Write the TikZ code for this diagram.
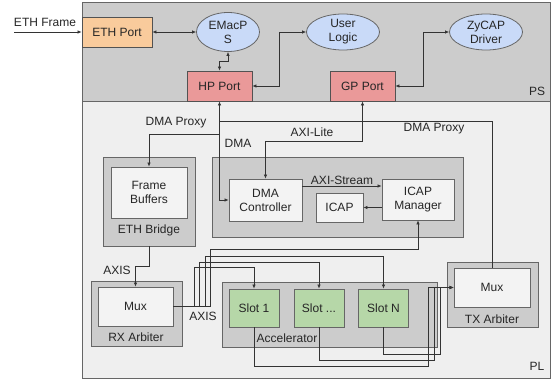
\documentclass[tikz,border=0pt]{standalone}
\usepackage{fontspec}
\setmainfont{Liberation Sans}
\usetikzlibrary{arrows.meta}
\usetikzlibrary{shapes.geometric}
\definecolor{psgray}{HTML}{CCCCCC}
\definecolor{plgray}{HTML}{EFEFEF}
\definecolor{boxwhite}{HTML}{F3F3F3}
\definecolor{portorange}{HTML}{F9CB9C}
\definecolor{portred}{HTML}{EA9999}
\definecolor{swblue}{HTML}{C9DAF8}
\definecolor{slotgreen}{HTML}{B6D7A8}
\definecolor{edgegray}{HTML}{666666}
\definecolor{wiregray}{HTML}{333333}

\begin{document}
\begin{tikzpicture}[x=0.75pt, y=-0.75pt, font=\fontsize{9}{10.5}\selectfont, text=black!85,
  zone/.style={draw=edgegray, line width=0.7pt},
  cluster/.style={draw=edgegray, fill=psgray, line width=0.7pt},
  unit/.style={draw=edgegray, fill=boxwhite, line width=0.6pt, align=center, inner sep=1pt},
  port/.style={draw=edgegray!80!black, fill=portred, line width=0.6pt, minimum width=48.75pt, minimum height=22.5pt},
  soft/.style={ellipse, draw=edgegray, fill=swblue, line width=0.6pt, align=center, inner sep=0pt},
  slot/.style={draw=edgegray, fill=slotgreen, line width=0.6pt, minimum width=37.5pt, minimum height=28.5pt},
  wire/.style={draw=wiregray, line width=0.5pt},
  oneway/.style={wire, -{Latex[length=3pt,width=2.6pt]}},
  twoway/.style={wire, {Latex[length=3pt,width=2.6pt]}-{Latex[length=3pt,width=2.6pt]}}]
%\draw [help lines] (0,0) grid (554,381);
\useasboundingbox (0,0) rectangle (554,381);

% Zones
\node[zone, fill=psgray, minimum width=351pt, minimum height=74.25pt]  (ps) at (316,51.5)  {};
\node[zone, fill=plgray, minimum width=351pt, minimum height=207.75pt] (pl) at (316,239.5) {};
\node (pslbl) at (537,91)  {PS};
\node (pllbl) at (537,366) {PL};

% Clusters
\node[cluster, minimum width=69pt,     minimum height=66.75pt] (ethbr) at (149,201.5)   {};
\node[cluster, minimum width=188.25pt, minimum height=60pt]    (dma)   at (337.5,197)   {};
\node[cluster, minimum width=68.25pt,  minimum height=48.75pt] (rxarb) at (136.5,313.5) {};
\node[cluster, minimum width=161.25pt, minimum height=48.75pt] (accel) at (329.5,314.5) {};
\node[cluster, minimum width=68.25pt,  minimum height=48.75pt] (txarb) at (492.5,294.5) {};
\node (ethbrlbl) at (149,230)   {ETH Bridge};
\node (rxarblbl) at (136,337)   {RX Arbiter};
\node (accellbl) at (287,338)   {Accelerator};
\node (txarblbl) at (492,319)   {TX Arbiter};

% PS side
\node[draw=edgegray!80!black, fill=portorange, line width=0.6pt, minimum width=52.5pt, minimum height=22.5pt] (ethport) at (117,32) {ETH Port};
\node[soft, minimum width=47.25pt, minimum height=29.25pt] (emac)  at (228,32) {EMacP\\S};
\node[soft, minimum width=54.75pt, minimum height=27pt]    (user)  at (343,32) {User\\Logic};
\node[soft, minimum width=54.75pt, minimum height=27pt]    (zycap) at (486,32) {ZyCAP\\Driver};
\node[port] (hp) at (219.5,86) {HP Port};
\node[port] (gp) at (362.5,86) {GP Port};

% PL side
\node[unit, minimum width=57pt,    minimum height=38.25pt] (fb)      at (149,192.5)   {Frame\\Buffers};
\node[unit, minimum width=54.75pt, minimum height=31.5pt]  (dmactl)  at (265.5,200)   {DMA\\Controller};
\node[unit, minimum width=35.25pt, minimum height=21.75pt] (icap)    at (339.5,207.5) {ICAP};
\node[unit, minimum width=54pt,    minimum height=30.75pt] (icapmgr) at (418,199.5)   {ICAP\\Manager};
\node[unit, minimum width=56.25pt, minimum height=29.25pt] (rxmux)   at (135.5,306.5) {Mux};
\node[unit, minimum width=57pt,    minimum height=29.25pt] (txmux)   at (492,287.5)   {Mux};
\node[slot] (slot1)    at (254,308)   {Slot 1};
\node[slot] (slotdots) at (319,308)   {Slot ...};
\node[slot] (slotn)    at (383.5,308) {Slot N};

% Labels
\node (ethframe)  at (45,22)   {ETH Frame};
\node (proxyl)    at (176,123) {DMA Proxy};
\node (proxyr)    at (434,129) {DMA Proxy};
\node (dmalbl)    at (238,143) {DMA};
\node (axilite)   at (312,132) {AXI-Lite};
\node (axistream) at (342,180) {AXI-Stream};
\node (axisin)    at (117,270) {AXIS};
\node (axisout)   at (203,316) {AXIS};

% Edges
\coordinate (ethin) at (14,32);
\draw[oneway] (ethin) -- (ethport.west);
\draw[twoway] (ethport.east) -- (emac.west);
\draw[twoway] (hp.north) -- ++(0,-9) -| (emac.south);
\draw[twoway] (hp.east) -- ++(27,0) |- (user.west);
\draw[twoway] (gp.east) -- ++(28,0) |- (zycap.west);

\draw[twoway] (hp.south) |- (dmactl.west);
\draw[oneway] (hp.south |- 0,134) -| (fb.north);
\draw[wire]   (hp.south |- 0,121) -| (txmux.north);
\draw[twoway] (gp.south) -- (gp.south |- 0,141) -| (dmactl.north);
\draw[oneway] (dmactl.east |- 0,186) -- (icapmgr.west |- 0,186);
\draw[oneway] (icapmgr.west |- icap.east) -- (icap.east);

\draw[oneway] (ethbr.south) -- ++(0,20) -| (rxmux.north);
\draw[oneway] (rxmux.east) -| (194,267) -| (slot1.north);
\draw[oneway] (rxmux.east) -| (199,262) -| (slotdots.north);
\draw[oneway] (rxmux.east) -| (205,256) -| (slotn.north);
\draw[oneway] (rxmux.east) -| (210,249) -| (icapmgr.south);

\draw[oneway] (slot1.south)    |- (428,366) |- (txmux.west);
\draw[oneway] (slotdots.south) |- (434,360) |- (txmux.west);
\draw[oneway] (slotn.south)    |- (440,354) |- (txmux.west);
\end{tikzpicture}
\end{document}
